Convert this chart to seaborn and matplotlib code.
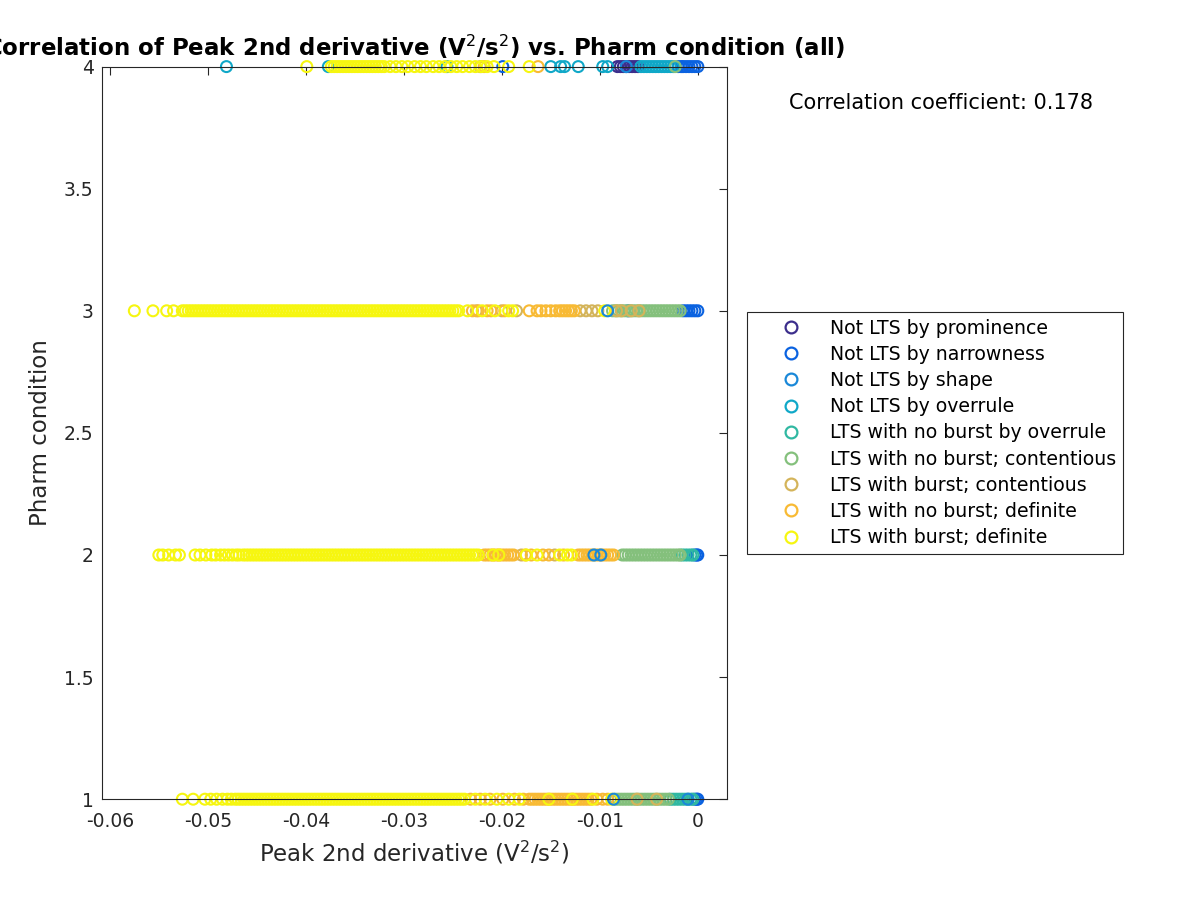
import matplotlib
matplotlib.use("Agg")
import matplotlib.pyplot as plt
from matplotlib.lines import Line2D
import seaborn as sns
import pandas as pd

# spike classes (legend order)
type_labels = [
    "Not LTS by prominence",
    "Not LTS by narrowness",
    "Not LTS by shape",
    "Not LTS by overrule",
    "LTS with no burst by overrule",
    "LTS with no burst; contentious",
    "LTS with burst; contentious",
    "LTS with no burst; definite",
    "LTS with burst; definite",
]
type_colors = ["#3c2e8c", "#0a62e0", "#1a88d8", "#10a8c8", "#30b8a2",
               "#84c07c", "#d4b45a", "#f8ba34", "#f6f610"]

# peak 2nd derivative (V^2/s^2) values read per pharm condition
prominence = {
    4: [-0.0082, -0.0079, -0.0076, -0.0073, -0.0070, -0.0067, -0.0064, -0.0061],
}
narrowness = {
    1: [-0.0003, -0.0001, 0.0],
    2: [-0.0003, -0.0001, 0.0],
    3: [-0.0071, -0.0015, -0.0012, -0.0009, -0.0006, -0.0003, 0.0],
    4: [-0.0199, -0.0020, -0.0017, -0.0015, -0.0012, -0.0009, -0.0006, -0.0003, 0.0],
}
shape = {
    1: [-0.0086, -0.0010],
    2: [-0.0106, -0.0099],
    3: [-0.0092],
    4: [-0.0073],
}
overrule = {
    4: [-0.0481, -0.0377, -0.0256, -0.0150, -0.0140, -0.0136, -0.0122, -0.0097,
        -0.0092, -0.0058, -0.0055, -0.0052, -0.0049, -0.0046, -0.0043, -0.0040,
        -0.0037, -0.0034, -0.0031, -0.0028, -0.0025],
}
noburst_overrule = {
    1: [-0.0028, -0.0025, -0.0022, -0.0019, -0.0016, -0.0013, -0.0010, -0.0007,
        -0.0005],
    2: [-0.0016, -0.0013, -0.0010, -0.0007, -0.0005],
}
noburst_contentious = {
    1: [-0.0084, -0.0081, -0.0078, -0.0075, -0.0072, -0.0069, -0.0066, -0.0063,
        -0.0060, -0.0057, -0.0054, -0.0051, -0.0048, -0.0045, -0.0042, -0.0039,
        -0.0036, -0.0033, -0.0030],
    2: [-0.0077, -0.0074, -0.0071, -0.0068, -0.0065, -0.0062, -0.0059, -0.0056,
        -0.0053, -0.0050, -0.0047, -0.0044, -0.0041, -0.0038, -0.0035, -0.0032,
        -0.0029, -0.0026, -0.0023, -0.0020, -0.0018],
    3: [-0.0087, -0.0084, -0.0081, -0.0078, -0.0075, -0.0072, -0.0069, -0.0066,
        -0.0063, -0.0060, -0.0057, -0.0054, -0.0051, -0.0048, -0.0045, -0.0042,
        -0.0039, -0.0036, -0.0033, -0.0030, -0.0027, -0.0024, -0.0021, -0.0018],
    4: [-0.0023],
}
burst_contentious = {
    1: [-0.0062, -0.0042],
    2: [-0.0180, -0.0146],
    3: [-0.0226, -0.0200, -0.0185, -0.0120, -0.0114, -0.0108, -0.0102, -0.0083,
        -0.0078, -0.0068, -0.0060],
    4: [-0.0222],
}
noburst_definite = {
    1: [-0.0232, -0.0222, -0.0212, -0.0199, -0.0187, -0.0178,
        -0.0172, -0.0169, -0.0166, -0.0163, -0.0160, -0.0157, -0.0154, -0.0151,
        -0.0148, -0.0145, -0.0142, -0.0139, -0.0136, -0.0133, -0.0130, -0.0127,
        -0.0124, -0.0121, -0.0118, -0.0115, -0.0112, -0.0109, -0.0103, -0.0097,
        -0.0092],
    2: [-0.0218, -0.0215, -0.0212, -0.0209, -0.0206, -0.0203, -0.0200, -0.0197,
        -0.0194, -0.0191, -0.0188, -0.0176, -0.0170, -0.0158, -0.0152, -0.0137,
        -0.0122, -0.0119, -0.0116, -0.0113, -0.0110, -0.0107, -0.0104, -0.0101,
        -0.0098, -0.0095, -0.0092, -0.0089, -0.0086],
    3: [-0.0230, -0.0224, -0.0215, -0.0211, -0.0197, -0.0172, -0.0164, -0.0160,
        -0.0155, -0.0150, -0.0145, -0.0141, -0.0138, -0.0135, -0.0132, -0.0129,
        -0.0126],
    4: [-0.0218, -0.0163],
}
burst_definite = {
    1: [-0.0526, -0.0515, -0.0503, -0.0497, -0.0491, -0.0485, -0.0480, -0.0476,
        -0.0472, -0.0469, -0.0466, -0.0463, -0.0460, -0.0457, -0.0454, -0.0451,
        -0.0448, -0.0445, -0.0442, -0.0439, -0.0436, -0.0433, -0.0430, -0.0427,
        -0.0424, -0.0421, -0.0418, -0.0415, -0.0412, -0.0409, -0.0406, -0.0403,
        -0.0400, -0.0397, -0.0394, -0.0391, -0.0388, -0.0385, -0.0382, -0.0379,
        -0.0376, -0.0373, -0.0370, -0.0367, -0.0364, -0.0361, -0.0358, -0.0355,
        -0.0352, -0.0349, -0.0346, -0.0343, -0.0340, -0.0337, -0.0334, -0.0331,
        -0.0328, -0.0325, -0.0322, -0.0319, -0.0316, -0.0313, -0.0310, -0.0307,
        -0.0304, -0.0301, -0.0298, -0.0295, -0.0292, -0.0289, -0.0286, -0.0283,
        -0.0280, -0.0277, -0.0274, -0.0271, -0.0268, -0.0265, -0.0262, -0.0259,
        -0.0256, -0.0253, -0.0250, -0.0247, -0.0244, -0.0241, -0.0238,
        -0.0227, -0.0217, -0.0205, -0.0193, -0.0182, -0.0152, -0.0128, -0.0107,
        -0.0088],
    2: [-0.0550, -0.0546, -0.0540, -0.0533, -0.0529, -0.0513, -0.0508, -0.0502,
        -0.0496, -0.0492, -0.0487, -0.0483, -0.0479, -0.0475, -0.0471, -0.0468,
        -0.0464, -0.0461, -0.0458, -0.0455, -0.0452, -0.0449, -0.0446, -0.0443,
        -0.0440, -0.0437, -0.0434, -0.0431, -0.0428, -0.0425, -0.0422, -0.0419,
        -0.0416, -0.0413, -0.0410, -0.0407, -0.0404, -0.0401, -0.0398, -0.0395,
        -0.0392, -0.0389, -0.0386, -0.0383, -0.0380, -0.0377, -0.0374, -0.0371,
        -0.0368, -0.0365, -0.0362, -0.0359, -0.0356, -0.0353, -0.0350, -0.0347,
        -0.0344, -0.0341, -0.0338, -0.0335, -0.0332, -0.0329, -0.0326, -0.0323,
        -0.0320, -0.0317, -0.0314, -0.0311, -0.0308, -0.0305, -0.0302, -0.0299,
        -0.0296, -0.0293, -0.0290, -0.0287, -0.0284, -0.0281, -0.0278, -0.0275,
        -0.0272, -0.0269, -0.0266, -0.0263, -0.0260, -0.0257, -0.0254, -0.0251,
        -0.0248, -0.0245, -0.0242, -0.0239, -0.0236, -0.0233, -0.0230, -0.0227,
        -0.0224,
        -0.0209, -0.0203, -0.0175, -0.0164, -0.0141, -0.0133, -0.0129],
    3: [-0.0575, -0.0556, -0.0542, -0.0535,
        -0.0526, -0.0523, -0.0520, -0.0517, -0.0514, -0.0511, -0.0508, -0.0505,
        -0.0502, -0.0499, -0.0496, -0.0493, -0.0490, -0.0487, -0.0484, -0.0481,
        -0.0478, -0.0475, -0.0472, -0.0469, -0.0466, -0.0463, -0.0460, -0.0457,
        -0.0454, -0.0451, -0.0448, -0.0445, -0.0442, -0.0439, -0.0436, -0.0433,
        -0.0430, -0.0427, -0.0424, -0.0421, -0.0418, -0.0415, -0.0412, -0.0409,
        -0.0406, -0.0403, -0.0400, -0.0397, -0.0394, -0.0391, -0.0388, -0.0385,
        -0.0382, -0.0379, -0.0376, -0.0373, -0.0370, -0.0367, -0.0364, -0.0361,
        -0.0358, -0.0355, -0.0352, -0.0349, -0.0346, -0.0343, -0.0340, -0.0337,
        -0.0334, -0.0331, -0.0328, -0.0325, -0.0322, -0.0319, -0.0316, -0.0313,
        -0.0310, -0.0307, -0.0304, -0.0301, -0.0298, -0.0295, -0.0292, -0.0289,
        -0.0286, -0.0283, -0.0280, -0.0277, -0.0274, -0.0271, -0.0268, -0.0265,
        -0.0262, -0.0259, -0.0256, -0.0253, -0.0250, -0.0247, -0.0244,
        -0.0235, -0.0220, -0.0207, -0.0193, -0.0189, -0.0095],
    4: [-0.0399,
        -0.0374, -0.0371, -0.0368, -0.0365, -0.0362, -0.0359, -0.0356, -0.0353,
        -0.0350, -0.0347, -0.0344, -0.0341, -0.0338, -0.0335, -0.0332, -0.0329,
        -0.0326, -0.0323, -0.0320,
        -0.0314, -0.0308, -0.0302, -0.0296, -0.0289, -0.0283, -0.0277, -0.0270,
        -0.0264, -0.0258, -0.0252, -0.0246, -0.0240, -0.0233, -0.0227, -0.0221,
        -0.0215, -0.0208, -0.0193, -0.0172],
}
class_points = [prominence, narrowness, shape, overrule, noburst_overrule,
                noburst_contentious, burst_contentious, noburst_definite,
                burst_definite]
# plotting order: the shape class ends up on top in the original
draw_order = [0, 1, 3, 4, 5, 6, 7, 8, 2]
corr_coef = 0.178

rows = []
for i in draw_order:
    for cond, xs in class_points[i].items():
        for x in xs:
            rows.append((x, cond, type_labels[i]))
df = pd.DataFrame(rows, columns=["peak2d", "pharm", "type"])

sns.set_style("white")
plt.rcParams['font.family'] = ['DejaVu Sans']

fig = plt.figure(figsize=(12, 9), dpi=100)
ax = fig.add_axes([0.085, 0.112, 0.521, 0.814])

sns.scatterplot(data=df, x="peak2d", y="pharm", hue="type", hue_order=type_labels,
                palette=type_colors, s=62, ax=ax, legend=False)
# hollow circles like the original
pts_coll = ax.collections[0]
pts_coll.set_edgecolors(pts_coll.get_facecolors())
pts_coll.set_facecolors("none")
pts_coll.set_linewidths(1.5)
pts_coll.set_clip_on(False)

ax.set_xlim(-0.0608, 0.003)
ax.set_ylim(1, 4)
ax.set_xticks([-0.06, -0.05, -0.04, -0.03, -0.02, -0.01, 0])
ax.set_xticklabels(["-0.06", "-0.05", "-0.04", "-0.03", "-0.02", "-0.01", "0"])
ax.set_yticks([1, 1.5, 2, 2.5, 3, 3.5, 4])
ax.set_yticklabels(["1", "1.5", "2", "2.5", "3", "3.5", "4"])
ax.tick_params(direction="in", top=True, right=True, length=6, width=0.8,
               labelsize=13.5, colors="#262626", labelcolor="#262626")
ax.tick_params(axis="x", pad=9)
ax.tick_params(axis="y", pad=6)
for sp in ax.spines.values():
    sp.set_color("#262626")
    sp.set_linewidth(0.8)

ax.set_xlabel(r"Peak 2nd derivative (V$^2$/s$^2$)", fontsize=16.5, color="#262626",
              labelpad=6)
ax.set_ylabel("Pharm condition", fontsize=16.5, color="#262626", labelpad=9)
ax.set_title(r"Correlation of Peak 2nd derivative (V$^2$/s$^2$) vs. Pharm condition (all)",
             fontsize=16.5, fontweight="bold", color="black", pad=8)

fig.text(0.784, 0.8856, f"Correlation coefficient: {corr_coef:.3f}",
         ha="center", va="center", fontsize=15, color="black")

handles = [Line2D([], [], ls="none", marker="o", mfc="none", mec=c, mew=1.6, ms=8.5)
           for c in type_colors]
leg = fig.legend(handles, type_labels, loc="center", bbox_to_anchor=(0.779, 0.519),
                 fontsize=13.6, frameon=True, fancybox=False, edgecolor="#262626",
                 framealpha=1, borderpad=0.35, labelspacing=0.38,
                 handlelength=4.0, handletextpad=0.05, borderaxespad=0)
leg.get_frame().set_linewidth(0.8)
for t in leg.get_texts():
    t.set_color("black")

fig.savefig("out.png", dpi=100)
